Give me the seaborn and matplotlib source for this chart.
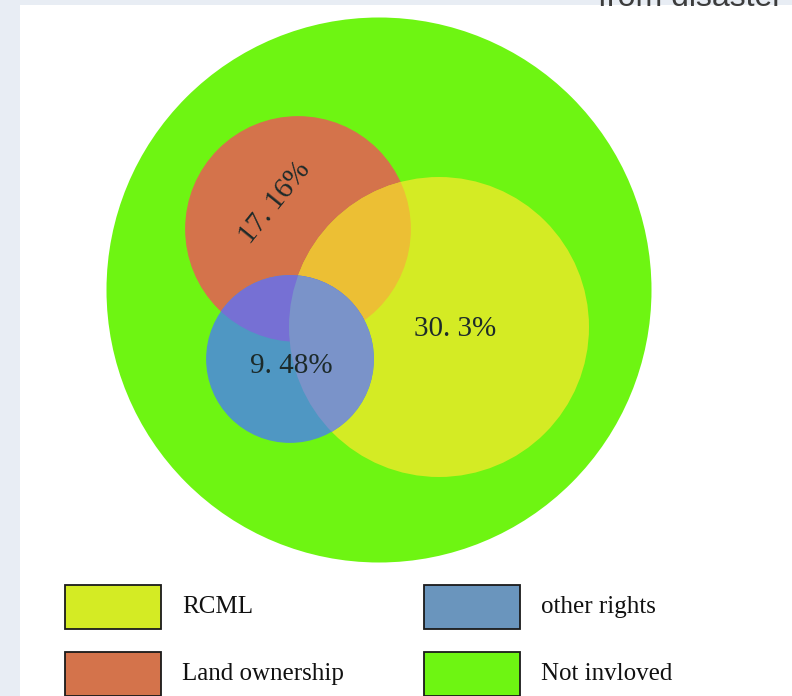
import numpy as np
import matplotlib
matplotlib.use("Agg")
import matplotlib.pyplot as plt
from matplotlib.patches import Circle, Rectangle
import seaborn as sns

# ---------------- data ----------------
categories = ["RCML", "Land ownership", "other rights", "Not invloved"]
shares = [30.3, 17.16, 9.48, 100.0]          # % of all cases (Not invloved = whole set)
colors = ["#d4eb24", "#d4734b", "#6a95bd", "#6ef512"]
overlap_colors = {
    "RCML&Land ownership": "#ecbf34",
    "other rights&Not invloved": "#4f97c3",
    "other rights&Land ownership": "#7670d4",
    "other rights&RCML": "#7a93c9",
}

# ---------------- layout (pixel-like canvas) ----------------
W, H = 792, 696
R_ALL = 272.5
centers = {
    "Not invloved": (379, 290),
    "Land ownership": (298, 229),
    "RCML": (439, 327),
    "other rights": (290, 359),
}
label_pos = {
    "Land ownership": (275, 203, 51),
    "RCML": (455, 329, 0),
    "other rights": (291, 366, 0),
}

sns.set_theme(style="white")
plt.rcParams["font.family"] = ["Liberation Serif", "DejaVu Serif"]

fig = plt.figure(figsize=(W / 100, H / 100), dpi=100)
fig.patch.set_facecolor("#e8edf4")
ax = fig.add_axes([0, 0, 1, 1])
ax.set_xlim(0, W)
ax.set_ylim(H, 0)
ax.set_aspect("equal")
ax.axis("off")

# white page area
ax.add_patch(Rectangle((20, 5), W - 20, H - 5, facecolor="white", edgecolor="none", zorder=0))

# partially visible heading at the top (cut by the page edge, as in the source)
ax.text(598, 6, "from disaster", family=["Liberation Sans", "DejaVu Sans"], fontsize=23,
        color="#3c3c3c", ha="left", va="baseline", zorder=1)

share = dict(zip(categories, shares))
col = dict(zip(categories, colors))
radius = {c: R_ALL * np.sqrt(share[c] / 100.0) for c in categories}


def circ(name, color, z):
    return Circle(centers[name], radius[name], facecolor=color, edgecolor="none", zorder=z)


# base circles
ax.add_patch(circ("Not invloved", col["Not invloved"], 2))
ax.add_patch(circ("Land ownership", col["Land ownership"], 3))
ax.add_patch(circ("RCML", col["RCML"], 4))

# RCML ∩ Land ownership
yel_clip = circ("RCML", "none", 4)
ax.add_patch(yel_clip)
p = circ("Land ownership", overlap_colors["RCML&Land ownership"], 5)
ax.add_patch(p)
p.set_clip_path(yel_clip)

# other rights circle and its overlaps
ax.add_patch(circ("other rights", overlap_colors["other rights&Not invloved"], 6))
blue_clip = circ("other rights", "none", 6)
ax.add_patch(blue_clip)
p = circ("Land ownership", overlap_colors["other rights&Land ownership"], 7)
ax.add_patch(p)
p.set_clip_path(blue_clip)
p = circ("RCML", overlap_colors["other rights&RCML"], 8)
ax.add_patch(p)
p.set_clip_path(blue_clip)

# percentage labels
for name, (x, y, rot) in label_pos.items():
    txt = f"{share[name]:g}".replace(".", ". ") + "%"
    ax.text(x, y, txt, fontsize=21, color="#1c2a2a", ha="center", va="center",
            rotation=rot, rotation_mode="anchor", zorder=10)

# legend (two columns, two rows)
leg_x0, leg_y0 = 65, 585
box_w, box_h = 96, 44
col_pitch, row_pitch = 359, 67
legend_order = ["RCML", "other rights", "Land ownership", "Not invloved"]
for i, name in enumerate(legend_order):
    cx = leg_x0 + (i % 2) * col_pitch
    cy = leg_y0 + (i // 2) * row_pitch
    ax.add_patch(Rectangle((cx, cy), box_w, box_h, facecolor=col[name],
                           edgecolor="#1a1a1a", linewidth=1.3, zorder=10))
    ax.text(cx + box_w + 21, cy + box_h / 2, name, fontsize=18, color="#111111",
            ha="left", va="center", zorder=10)

fig.savefig("out.png", dpi=100, facecolor=fig.get_facecolor())
